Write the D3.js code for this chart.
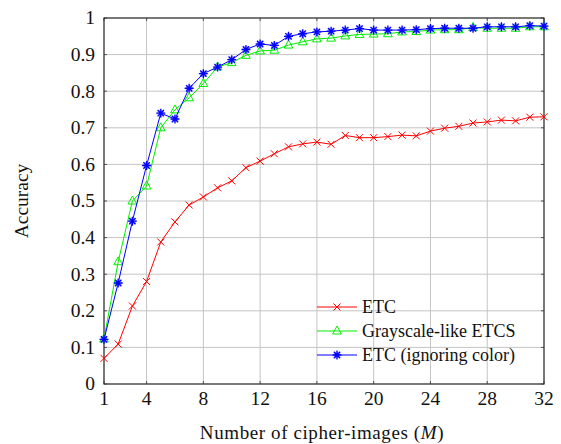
<!DOCTYPE html>
<html>
<head>
<meta charset="utf-8">
<script src="https://cdn.jsdelivr.net/npm/d3@7"></script>
<style>
  body { margin: 0; background: #fff; }
</style>
</head>
<body>
<div id="container"></div>
<script>
const w = 561,
    h = 444,
    margin = {top: 18, right: 17, bottom: 60, left: 104},
    fontFam = "'Liberation Serif', 'Times New Roman', 'DejaVu Serif', serif";

// data
var M = d3.range(1, 33);
var etc = [0.07, 0.109, 0.213, 0.28, 0.388, 0.443, 0.489, 0.511, 0.536, 0.555, 0.591, 0.609, 0.629, 0.648, 0.656, 0.661,
    0.655, 0.679, 0.673, 0.673, 0.676, 0.68, 0.678, 0.691, 0.699, 0.704, 0.713, 0.716, 0.721, 0.719, 0.729, 0.73];
var grayscale = [0.123, 0.334, 0.5, 0.541, 0.7, 0.749, 0.782, 0.821, 0.866, 0.878, 0.898, 0.91, 0.912, 0.926, 0.935, 0.943,
    0.945, 0.951, 0.955, 0.956, 0.957, 0.962, 0.963, 0.967, 0.968, 0.968, 0.974, 0.972, 0.972, 0.972, 0.976, 0.976];
var ignoring = [0.122, 0.276, 0.445, 0.597, 0.74, 0.724, 0.808, 0.848, 0.866, 0.886, 0.914, 0.929, 0.925, 0.95, 0.957, 0.962,
    0.964, 0.967, 0.971, 0.967, 0.967, 0.967, 0.968, 0.971, 0.972, 0.972, 0.972, 0.976, 0.976, 0.976, 0.979, 0.978];
var xTicks = [1, 4, 8, 12, 16, 20, 24, 28, 32];
var yTicks = d3.range(0, 11).map(d => d / 10);
var seriesNames = ["ETC", "Grayscale-like ETCS", "ETC (ignoring color)"];

var series = [
    {name: seriesNames[0], values: etc, color: "#ff0000", mark: "cross"},
    {name: seriesNames[1], values: grayscale, color: "#00ee00", mark: "triangle"},
    {name: seriesNames[2], values: ignoring, color: "#0000ff", mark: "asterisk"}
];

var svg = d3.select("div#container")
    .append("svg")
    .attr("width", w)
    .attr("height", h)
    .style("font-family", fontFam);

var iw = w - margin.left - margin.right,
    ih = h - margin.top - margin.bottom;

var x = d3.scaleLinear().domain([1, 32]).range([0, iw]);
var y = d3.scaleLinear().domain([0, 1]).range([ih, 0]);

var g = svg.append("g").attr("transform", "translate(" + margin.left + "," + margin.top + ")");

// grid
g.selectAll(".vgrid").data(xTicks).enter().append("line")
    .attr("x1", d => x(d)).attr("x2", d => x(d))
    .attr("y1", 0).attr("y2", ih)
    .style("stroke", "#c4c4c4").style("stroke-width", 1);
g.selectAll(".hgrid").data(yTicks).enter().append("line")
    .attr("x1", 0).attr("x2", iw)
    .attr("y1", d => y(d)).attr("y2", d => y(d))
    .style("stroke", "#c4c4c4").style("stroke-width", 1);

// inner ticks on all four sides
var tl = 3;
[0, ih].forEach(function (yy) {
    g.selectAll(null).data(xTicks).enter().append("line")
        .attr("x1", d => x(d)).attr("x2", d => x(d))
        .attr("y1", yy).attr("y2", yy === 0 ? tl : ih - tl)
        .style("stroke", "#555").style("stroke-width", 1);
});
[0, iw].forEach(function (xx) {
    g.selectAll(null).data(yTicks).enter().append("line")
        .attr("y1", d => y(d)).attr("y2", d => y(d))
        .attr("x1", xx).attr("x2", xx === 0 ? tl : iw - tl)
        .style("stroke", "#555").style("stroke-width", 1);
});

// frame
g.append("rect")
    .attr("width", iw).attr("height", ih)
    .style("fill", "none").style("stroke", "#333").style("stroke-width", 1.2);

// tick labels
g.selectAll(".xl").data(xTicks).enter().append("text")
    .attr("x", d => x(d)).attr("y", ih + 21)
    .attr("text-anchor", "middle")
    .style("font-size", "19.5px").style("fill", "#111")
    .text(d => d);
g.selectAll(".yl").data(yTicks).enter().append("text")
    .attr("x", -9).attr("y", d => y(d))
    .attr("dy", "0.33em")
    .attr("text-anchor", "end")
    .style("font-size", "19.5px").style("fill", "#111")
    .text(d => d3.format("")(d));

// axis titles
var xt = svg.append("text")
    .attr("x", 322).attr("y", 439)
    .attr("text-anchor", "middle")
    .style("font-size", "19px").style("letter-spacing", "0.6px").style("fill", "#111");
xt.append("tspan").text("Number of cipher-images (");
xt.append("tspan").style("font-style", "italic").text("M");
xt.append("tspan").text(")");

svg.append("text")
    .attr("transform", "translate(28," + 201 + ") rotate(-90)")
    .attr("text-anchor", "middle")
    .style("font-size", "19.5px").style("fill", "#111")
    .text("Accuracy");

// marks
function drawMark(sel, type, color) {
    if (type === "cross") {
        var s = 3.5;
        sel.append("path")
            .attr("d", "M" + (-s) + "," + (-s) + "L" + s + "," + s + "M" + (-s) + "," + s + "L" + s + "," + (-s))
            .style("stroke", color).style("stroke-width", 1).style("fill", "none");
    } else if (type === "triangle") {
        var r = 5;
        sel.append("path")
            .attr("d", "M0," + (-r) + "L" + (r * 0.87) + "," + (r * 0.6) + "L" + (-r * 0.87) + "," + (r * 0.6) + "Z")
            .style("stroke", color).style("stroke-width", 1).style("fill", "none");
    } else {
        var a = 4.5;
        sel.append("circle").attr("r", 3.5).style("fill", "#7f7fff").style("opacity", 0.6);
        var p = "";
        [0, 45, 90, 135].forEach(function (deg) {
            var rad = deg * Math.PI / 180, dx = a * Math.cos(rad), dy = a * Math.sin(rad);
            p += "M" + (-dx) + "," + (-dy) + "L" + dx + "," + dy;
        });
        sel.append("path").attr("d", p)
            .style("stroke", color).style("stroke-width", 1.3).style("fill", "none");
    }
}

var line = d3.line()
    .x((d, i) => x(M[i]))
    .y(d => y(d));

series.forEach(function (s) {
    g.append("path")
        .datum(s.values)
        .attr("d", line)
        .style("fill", "none")
        .style("stroke", s.color)
        .style("stroke-width", 1);
    g.selectAll(null).data(s.values).enter().append("g")
        .attr("transform", (d, i) => "translate(" + x(M[i]) + "," + y(d) + ")")
        .each(function () { drawMark(d3.select(this), s.mark, s.color); });
});

// legend
var legend = svg.append("g").attr("transform", "translate(317,307)");
series.forEach(function (s, i) {
    var row = legend.append("g").attr("transform", "translate(0," + (i * 24) + ")");
    row.append("line").attr("x1", 0).attr("x2", 40).attr("y1", 0).attr("y2", 0)
        .style("stroke", s.color).style("stroke-width", 1);
    drawMark(row.append("g").attr("transform", "translate(20,0)"), s.mark, s.color);
    row.append("text").attr("x", 45).attr("y", 0).attr("dy", "0.33em")
        .style("font-size", "18px").style("fill", "#111")
        .text(s.name);
});
</script>
</body>
</html>
